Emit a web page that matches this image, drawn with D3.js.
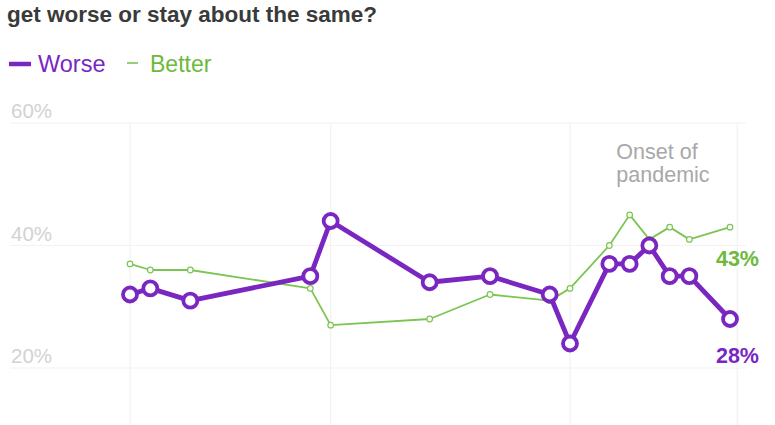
<!DOCTYPE html>
<html>
<head>
<meta charset="utf-8">
<script src="https://cdn.jsdelivr.net/npm/d3@7"></script>
<style>
  html, body { margin: 0; padding: 0; background: #fff; }
  svg { display: block; font-family: "Liberation Sans", Arial, Helvetica, sans-serif; }
</style>
</head>
<body>
<svg id="chart" width="775" height="425"></svg>
<script>
// ---- data ----
const titleLine = "get worse or stay about the same?";
const surveyMonths = ["2018-03","2018-04","2018-06","2018-12","2019-01","2019-06","2019-09","2019-12","2020-01","2020-03","2020-04","2020-05","2020-06","2020-07","2020-09"];
const worse  = [32, 33, 31, 35, 44, 34, 35, 32, 24, 37, 37, 40, 35, 35, 28];
const better = [37, 36, 36, 33, 27, 28, 32, 31, 33, 40, 45, 41, 43, 41, 43];
const yTicks = [20, 40, 60];
const xGridDates = ["2018-03-01", "2019-01-01", "2020-01-01", "2020-09-12"];
const pandemicMonth = "2020-03";
const annotationLines = ["Onset of", "pandemic"];
const seriesNames = ["Worse", "Better"];

// ---- styles ----
const PURPLE = "#7a26c1";
const GREEN = "#7cc552";
const GREEN_TEXT = "#6cb93c";

const svg = d3.select("#chart");
const parse = d3.timeParse("%Y-%m");
const parseDay = d3.timeParse("%Y-%m-%d");
const dates = surveyMonths.map(parse);

const x = d3.scaleTime()
  .domain([parse("2018-03"), parse("2020-09")])
  .range([130, 730]);
const y = d3.scaleLinear().domain([20, 60]).range([368, 123]);

// title (partially cropped chart)
svg.append("text")
  .attr("x", 7).attr("y", 22)
  .attr("font-size", 22.5).attr("font-weight", "bold")
  .attr("fill", "#3a3a3a")
  .text(titleLine);

// legend
const legend = svg.append("g");
legend.append("line").attr("x1", 9).attr("x2", 31).attr("y1", 64).attr("y2", 64)
  .attr("stroke", PURPLE).attr("stroke-width", 4.5);
legend.append("text").attr("x", 38).attr("y", 72).attr("font-size", 23.5)
  .attr("fill", PURPLE).text(seriesNames[0]);
legend.append("line").attr("x1", 127).attr("x2", 138).attr("y1", 63).attr("y2", 63)
  .attr("stroke", GREEN).attr("stroke-width", 1.6);
legend.append("text").attr("x", 150).attr("y", 72).attr("font-size", 23)
  .attr("fill", GREEN_TEXT).text(seriesNames[1]);

// grid
const grid = svg.append("g");
grid.selectAll("line.h").data(yTicks).join("line")
  .attr("class", "h")
  .attr("x1", 10).attr("x2", 746)
  .attr("y1", d => y(d)).attr("y2", d => y(d))
  .attr("stroke", "#f2f2f2").attr("stroke-width", 1.2);
grid.selectAll("line.v").data(xGridDates.map(parseDay)).join("line")
  .attr("class", "v")
  .attr("x1", d => x(d)).attr("x2", d => x(d))
  .attr("y1", y(60)).attr("y2", 440)
  .attr("stroke", "#f2f2f2").attr("stroke-width", 1.2);
grid.selectAll("text").data(yTicks).join("text")
  .attr("x", 11).attr("y", d => y(d) - 5)
  .attr("font-size", 20.5).attr("fill", "#d2d2d2")
  .text(d => d + "%");

// annotation
const ax = x(parse(pandemicMonth)) + 7;
svg.append("g").selectAll("text").data(annotationLines).join("text")
  .attr("x", ax).attr("y", (d, i) => 159 + i * 23)
  .attr("font-size", 21.5).attr("fill", "#a8a8a8")
  .text(d => d);

// lines
const line = d3.line().x(d => x(d[0])).y(d => y(d[1]));
const betterPts = dates.map((d, i) => [d, better[i]]);
const worsePts = dates.map((d, i) => [d, worse[i]]);

svg.append("path").datum(betterPts)
  .attr("d", line).attr("fill", "none")
  .attr("stroke", GREEN).attr("stroke-width", 1.8).attr("stroke-linejoin", "round");
svg.append("g").selectAll("circle").data(betterPts).join("circle")
  .attr("cx", d => x(d[0])).attr("cy", d => y(d[1])).attr("r", 2.8)
  .attr("fill", "#fff").attr("stroke", GREEN).attr("stroke-width", 1.2);

svg.append("path").datum(worsePts)
  .attr("d", line).attr("fill", "none")
  .attr("stroke", PURPLE).attr("stroke-width", 4.8).attr("stroke-linejoin", "round");
svg.append("g").selectAll("circle").data(worsePts).join("circle")
  .attr("cx", d => x(d[0])).attr("cy", d => y(d[1])).attr("r", 7)
  .attr("fill", "#fff").attr("stroke", PURPLE).attr("stroke-width", 3.8);

// end labels
const lastD = dates[dates.length - 1];
svg.append("text")
  .attr("x", x(lastD) + 29).attr("y", y(better[better.length - 1]) + 39)
  .attr("text-anchor", "end")
  .attr("font-size", 21.5).attr("font-weight", "bold").attr("fill", GREEN_TEXT)
  .text(better[better.length - 1] + "%");
svg.append("text")
  .attr("x", x(lastD) + 29).attr("y", y(worse[worse.length - 1]) + 44)
  .attr("text-anchor", "end")
  .attr("font-size", 21.5).attr("font-weight", "bold").attr("fill", PURPLE)
  .text(worse[worse.length - 1] + "%");
</script>
</body>
</html>
